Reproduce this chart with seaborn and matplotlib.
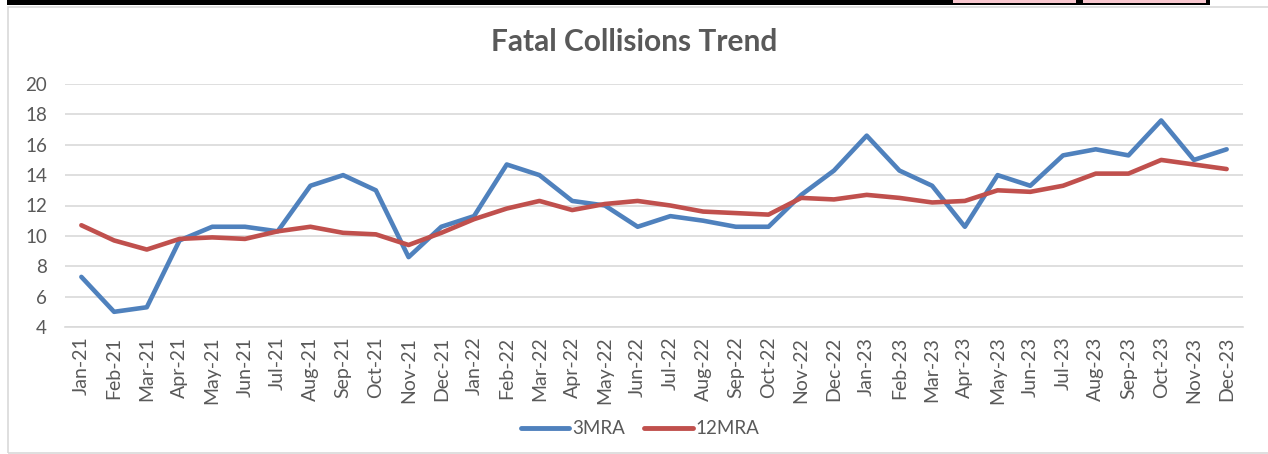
import matplotlib.pyplot as plt
import matplotlib.patches as mpatches
import numpy as np
import pandas as pd
import seaborn as sns

# ---- data ----
months = [
    "Jan-21", "Feb-21", "Mar-21", "Apr-21", "May-21", "Jun-21", "Jul-21", "Aug-21",
    "Sep-21", "Oct-21", "Nov-21", "Dec-21", "Jan-22", "Feb-22", "Mar-22", "Apr-22",
    "May-22", "Jun-22", "Jul-22", "Aug-22", "Sep-22", "Oct-22", "Nov-22", "Dec-22",
    "Jan-23", "Feb-23", "Mar-23", "Apr-23", "May-23", "Jun-23", "Jul-23", "Aug-23",
    "Sep-23", "Oct-23", "Nov-23", "Dec-23",
]
mra3 = [7.3, 5.0, 5.3, 9.7, 10.6, 10.6, 10.3, 13.3, 14.0, 13.0, 8.6, 10.6,
        11.3, 14.7, 14.0, 12.3, 12.0, 10.6, 11.3, 11.0, 10.6, 10.6, 12.7, 14.3,
        16.6, 14.3, 13.3, 10.6, 14.0, 13.3, 15.3, 15.7, 15.3, 17.6, 15.0, 15.7]
mra12 = [10.7, 9.7, 9.1, 9.8, 9.9, 9.8, 10.3, 10.6, 10.2, 10.1, 9.4, 10.2,
         11.1, 11.8, 12.3, 11.7, 12.1, 12.3, 12.0, 11.6, 11.5, 11.4, 12.5, 12.4,
         12.7, 12.5, 12.2, 12.3, 13.0, 12.9, 13.3, 14.1, 14.1, 15.0, 14.7, 14.4]
series_names = ["3MRA", "12MRA"]

C_BLUE = "#4F81BD"
C_RED = "#C0504D"
C_TEXT = "#595959"
C_GRID = "#D9D9D9"

df = pd.DataFrame({"Month": months, "3MRA": mra3, "12MRA": mra12})
long_df = df.melt(id_vars="Month", value_vars=series_names, var_name="Series", value_name="Value")

sns.set_theme(style="white")
plt.rcParams["font.family"] = ["Lato", "DejaVu Sans"]

W, H = 1268, 454
fig = plt.figure(figsize=(W / 100, H / 100), dpi=100)
fig.patch.set_facecolor("white")

# spreadsheet cells peeking in at the top
fig.patches.append(mpatches.Rectangle((7 / W, 1 - 5 / H), 1203 / W, 5 / H,
                                      transform=fig.transFigure, facecolor="black", edgecolor="none"))
for x0 in (953, 1083):
    fig.patches.append(mpatches.Rectangle((x0 / W, 1 - 3 / H), 123 / W, 3 / H,
                                          transform=fig.transFigure, facecolor="#F8C6CE", edgecolor="none"))
# chart border
fig.patches.append(mpatches.Rectangle((7.5 / W, 1.5 / H), 1265 / W, (H - 8) / H,
                                      transform=fig.transFigure, facecolor="none",
                                      edgecolor=C_GRID, linewidth=1.2))

ax = fig.add_axes([65 / W, 1 - 327 / H, (1243 - 65) / W, (327 - 84) / H])
sns.lineplot(data=long_df, x="Month", y="Value", hue="Series", sort=False,
             palette={"3MRA": C_BLUE, "12MRA": C_RED}, linewidth=3.3, ax=ax,
             legend=True)

ax.set_xlim(-0.5, len(months) - 0.5)
ax.set_ylim(4, 20)
ax.set_yticks(np.arange(4, 21, 2))
ax.set_xticks(range(len(months)))
ax.set_xticklabels(months, rotation=90, fontsize=14, color=C_TEXT)
ax.set_xticks(np.arange(-0.5, len(months), 1), minor=True)
ax.tick_params(axis="x", which="major", length=0, pad=7)
ax.tick_params(axis="x", which="minor", length=5, color=C_GRID, width=1, direction="out")
ax.tick_params(axis="y", length=0, labelsize=13.5, labelcolor=C_TEXT, pad=13)
ax.grid(axis="y", color=C_GRID, linewidth=1.2)
ax.set_axisbelow(True)
for side in ("top", "right", "left"):
    ax.spines[side].set_visible(False)
ax.spines["bottom"].set_color(C_GRID)
ax.spines["bottom"].set_linewidth(1.2)
ax.set_xlabel("")
ax.set_ylabel("")

fig.text(0.5, 1 - 42 / H, "Fatal Collisions Trend", ha="center", va="center",
         fontsize=21.5, fontweight="bold", color=C_TEXT)

leg = ax.legend(loc="center", bbox_to_anchor=(640 / W, 1 - 429 / H),
                bbox_transform=fig.transFigure, ncol=2, frameon=False,
                fontsize=13.5, handlelength=2.6, handletextpad=0.15, columnspacing=1.0,
                labelcolor=C_TEXT)
for line in leg.get_lines():
    line.set_linewidth(3.5)
    line.set_solid_capstyle("round")

fig.savefig("out.png", dpi=100)
